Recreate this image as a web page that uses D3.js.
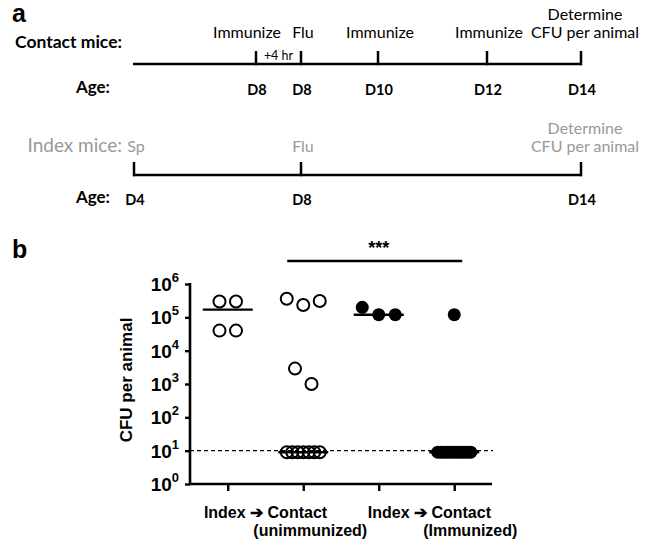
<!DOCTYPE html>
<html>
<head>
<meta charset="utf-8">
<script src="https://cdn.jsdelivr.net/npm/d3@7"></script>
<style>
  body { margin: 0; background: #fff; }
  svg { display: block; }
</style>
</head>
<body>
<div class="chart"></div>
<script>
// ---- panel a: timelines ----
var contactEvents = [
  { t: 8, label: ["Immunize"], age: "D8" },
  { t: 8 + 4 / 24, label: ["Flu"], age: "D8" },
  { t: 10, label: ["Immunize"], age: "D10" },
  { t: 12, label: ["Immunize"], age: "D12" },
  { t: 14, label: ["Determine", "CFU per animal"], age: "D14" }
];
var indexEvents = [
  { t: 4, label: ["Sp"], age: "D4" },
  { t: 8 + 4 / 24, label: ["Flu"], age: "D8" },
  { t: 14, label: ["Determine", "CFU per animal"], age: "D14" }
];

// ---- panel b: CFU per animal ----
var categories = ["Index (unimm.)", "Contact (unimmunized)", "Index (imm.)", "Contact (Immunized)"];
var cfuIndexUnimm = [3e5, 3e5, 4e4, 4e4];
var cfuContactUnimm = [3.6e5, 2.35e5, 3.1e5, 2.9e3, 1e3, 9, 9, 9, 9, 9, 9, 9];
var cfuIndexImm = [2e5, 1.2e5, 1.2e5];
var cfuContactImm = [1.2e5, 9, 9, 9, 9, 9, 9, 9, 9, 9, 9, 9];
var cfuSeries = [cfuIndexUnimm, cfuContactUnimm, cfuIndexImm, cfuContactImm];
var filled = [false, false, true, true];
var detectionLimit = 10;
var yTicks = [1, 10, 100, 1e3, 1e4, 1e5, 1e6];
var sigLabel = "***";

var svgWidth = 649;
var svgHeight = 541;

var svg = d3.select(".chart")
  .append("svg")
  .attr("width", svgWidth)
  .attr("height", svgHeight);

var fontA = "Lato, 'Open Sans', sans-serif";
var fontB = "'Liberation Sans', Arial, sans-serif";

// helper to set a font on a text selection
function setFont(sel, family, size, weight) {
  return sel.attr("font-family", family)
    .attr("font-size", size)
    .attr("font-weight", weight || "normal");
}

// panel letters
setFont(svg.append("text").attr("x", 12).attr("y", 22).text("a"), fontB, 25, "bold");
setFont(svg.append("text").attr("x", 12).attr("y", 258).text("b"), fontB, 25, "bold");

// time scale shared by both timelines (schematic, not proportional)
var timeScale = d3.scaleLinear()
  .domain([4, 8, 8 + 4 / 24, 10, 12, 14])
  .range([134, 256, 301, 378, 487, 581]);

function drawTimeline(g, events, opts) {
  setFont(g.append("text")
    .attr("x", 122).attr("y", opts.titleY)
    .attr("text-anchor", "end")
    .attr("fill", opts.color)
    .text(opts.title), fontA, opts.titleSize, opts.titleWeight);

  g.append("line")
    .attr("x1", timeScale(4) - 1).attr("x2", timeScale(14) + 1)
    .attr("y1", opts.lineY).attr("y2", opts.lineY)
    .attr("stroke", "#000").attr("stroke-width", 2.5);

  g.selectAll("line.tick")
    .data(events)
    .enter().append("line")
    .attr("class", "tick")
    .attr("x1", d => timeScale(d.t)).attr("x2", d => timeScale(d.t))
    .attr("y1", opts.lineY - 13).attr("y2", opts.lineY + 1.2)
    .attr("stroke", "#000").attr("stroke-width", 2.5);

  // event labels (last line sits on the label row, extra lines stack above)
  events.forEach(function(d, i) {
    var dx = opts.shiftFirst && i === 0 ? -11 : 0;
    var n = d.label.length;
    d.label.forEach(function(s, j) {
      setFont(g.append("text")
        .attr("x", timeScale(d.t) + dx + (n > 1 ? 4 : 2))
        .attr("y", opts.labelY - (n - 1 - j) * 18)
        .attr("text-anchor", "middle")
        .attr("fill", opts.color)
        .text(s), fontA, 16, "normal");
    });
  });

  setFont(g.append("text")
    .attr("x", 110).attr("y", opts.ageY - 1)
    .attr("text-anchor", "end")
    .text("Age:"), fontA, 17, "bold");

  setFont(g.selectAll("text.age")
    .data(events)
    .enter().append("text")
    .attr("class", "age")
    .attr("x", d => timeScale(d.t) + 1)
    .attr("y", opts.ageY + 1)
    .attr("text-anchor", "middle")
    .text(d => d.age), fontA, 14.5, "bold");
}

var contactG = svg.append("g");
drawTimeline(contactG, contactEvents, {
  title: "Contact mice:", titleY: 48, titleSize: 17.5, titleWeight: "bold", color: "#000",
  lineY: 64, labelY: 38, ageY: 94, shiftFirst: true
});
setFont(contactG.append("text")
  .attr("x", (timeScale(contactEvents[0].t) + timeScale(contactEvents[1].t)) / 2)
  .attr("y", 60)
  .attr("text-anchor", "middle")
  .text("+4 hr"), fontA, 12.5, "normal");

var indexG = svg.append("g");
drawTimeline(indexG, indexEvents, {
  title: "Index mice:", titleY: 152, titleSize: 19, titleWeight: "normal", color: "#999",
  lineY: 175, labelY: 152, ageY: 204, shiftFirst: false
});

// ---- panel b ----
var plot = { left: 190, right: 492, top: 284, bottom: 484 };

var xScale = d3.scalePoint()
  .domain(categories)
  .range([plot.left, plot.right])
  .padding(0.5);

var yScale = d3.scaleLog()
  .domain([1, 1e6])
  .range([plot.bottom, plot.top]);

var chartG = svg.append("g");

// dashed detection limit
chartG.append("line")
  .attr("x1", plot.left).attr("x2", plot.right + 1)
  .attr("y1", yScale(detectionLimit)).attr("y2", yScale(detectionLimit))
  .attr("stroke", "#000").attr("stroke-width", 1.4)
  .attr("stroke-dasharray", "4,3");

// axes
var leftAxis = d3.axisLeft(yScale).tickValues(yTicks).tickSize(5).tickFormat("");
var bottomAxis = d3.axisBottom(xScale).tickSize(7).tickFormat("");

var yAxisG = chartG.append("g")
  .attr("transform", `translate(${plot.left}, 0)`)
  .call(leftAxis);
var xAxisG = chartG.append("g")
  .attr("transform", `translate(0, ${plot.bottom})`)
  .call(bottomAxis);

[yAxisG, xAxisG].forEach(function(a) {
  a.select(".domain").remove();
  a.selectAll(".tick line").attr("stroke-width", 2.4);
});
chartG.append("path")
  .attr("d", `M${plot.left},${plot.top - 1}V${plot.bottom}H${plot.right}`)
  .attr("fill", "none").attr("stroke", "#000").attr("stroke-width", 2.6);

// y tick labels as 10^n
var yLab = setFont(chartG.selectAll("text.ylab")
  .data(yTicks)
  .enter().append("text")
  .attr("class", "ylab")
  .attr("x", 179)
  .attr("y", d => yScale(d) + 7)
  .attr("text-anchor", "end"), fontB, 19, "bold");
yLab.append("tspan").text("10");
yLab.append("tspan")
  .attr("dy", -9)
  .attr("font-size", 13)
  .text(d => Math.round(Math.log10(d)));

// y axis title
setFont(chartG.append("text")
  .attr("transform", `translate(132, ${(plot.top + plot.bottom) / 2 - 4}) rotate(-90)`)
  .attr("text-anchor", "middle")
  .text("CFU per animal"), fontB, 17, "bold");

// x labels
var xl = function(i) { return xScale(categories[i]); };
function xLabel(x, y, anchor, s) {
  setFont(chartG.append("text")
    .attr("x", x).attr("y", y)
    .attr("text-anchor", anchor)
    .text(s), fontB, 16, "bold");
}
xLabel((xl(0) + xl(1)) / 2, 518, "middle", "Index \u2794 Contact");
xLabel(xl(1) + 7, 536, "middle", "(unimmunized)");
xLabel(xl(2) - 11, 518, "start", "Index \u2794 Contact");
xLabel(xl(3) + 16, 536, "middle", "(Immunized)");

// simple beeswarm: points whose log values are close share a row and spread sideways
function swarm(values, cx) {
  var rows = [];
  values.forEach(function(v) {
    var row = rows.find(r => Math.abs(Math.log10(r[0]) - Math.log10(v)) < 0.6);
    if (row) row.push(v); else rows.push([v]);
  });
  var out = [];
  rows.forEach(function(r) {
    var n = r.length;
    var s = n > 1 ? Math.min(16.5, 33 / (n - 1)) : 0;
    r.forEach(function(v, k) {
      out.push({ v: v, x: cx + (k - (n - 1) / 2) * s });
    });
  });
  return out;
}

cfuSeries.forEach(function(vals, gi) {
  var cx = xl(gi);
  var med = d3.median(vals);
  chartG.append("line")
    .attr("x1", cx - 25).attr("x2", cx + 25)
    .attr("y1", yScale(med)).attr("y2", yScale(med))
    .attr("stroke", "#000").attr("stroke-width", 2.4);

  chartG.selectAll(null)
    .data(swarm(vals, cx))
    .enter().append("circle")
    .attr("cx", d => d.x)
    .attr("cy", d => yScale(d.v))
    .attr("r", filled[gi] ? 6.5 : 6)
    .attr("fill", filled[gi] ? "#000" : "none")
    .attr("stroke", "#000")
    .attr("stroke-width", filled[gi] ? 0 : 2);
});

// significance bar
var sigX1 = xl(1) - 16, sigX2 = xl(3) + 8;
chartG.append("line")
  .attr("x1", sigX1).attr("x2", sigX2)
  .attr("y1", 261).attr("y2", 261)
  .attr("stroke", "#000").attr("stroke-width", 2.5);
setFont(chartG.append("text")
  .attr("x", (sigX1 + sigX2) / 2 + 4).attr("y", 254)
  .attr("text-anchor", "middle")
  .text(sigLabel), fontB, 18, "bold");
</script>
</body>
</html>
